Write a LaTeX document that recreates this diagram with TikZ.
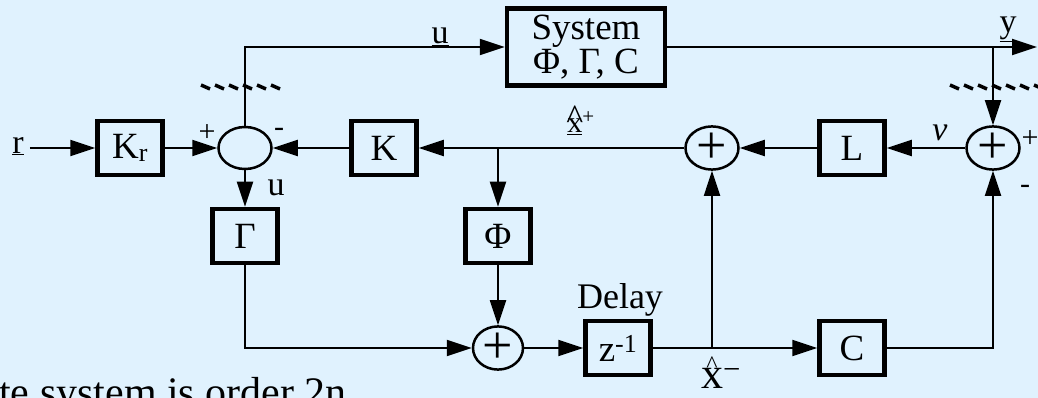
\documentclass[tikz,border=0pt]{standalone}
\usepackage{fontspec}
\setmainfont{Liberation Serif}
\usetikzlibrary{shapes.geometric,arrows.meta}
\definecolor{slidebg}{RGB}{224,242,254}
% x with a caret: #1 raise, #2 caret size
\newcommand{\hatx}[2]{\ooalign{x\cr\hidewidth\raisebox{#1}{\fontsize{#2}{#2}\selectfont\textasciicircum}\hidewidth\cr}}

\begin{document}
\begin{tikzpicture}[
    x=1pt, y=-1pt,
    block/.style={draw, line width=4.5pt, minimum width=65pt, minimum height=54pt, inner sep=0pt, font=\fontsize{37}{38}\selectfont},
    junction/.style={ellipse, draw, line width=2.5pt, minimum width=53pt, minimum height=42pt, inner sep=0pt, font=\fontsize{54}{54}\selectfont},
    lbl/.style={inner sep=0pt, font=\fontsize{34}{36}\selectfont},
    sgn/.style={inner sep=0pt, font=\fontsize{30}{30}\selectfont},
    sig/.style={line width=2pt, -{Triangle[length=25pt,width=16pt]}},
    cutmark/.style={line width=3.5pt}
]
\useasboundingbox (0,0) rectangle (1038,398);
\fill[slidebg] (0,0) rectangle (1038,398);
\clip (0,0) rectangle (1038,398);

% Controller
\node[lbl, inner sep=6pt] (r) at (18,146) {\underline{r}};
\node[block] (Kr) at (130,148) {K\textsubscript{r}};
\node[junction] (s1) at (245,148) {};
\node[block] (K) at (384,148) {K};
\node[block] (Gam) at (245,236) {Γ};

% Plant
\node[block, minimum width=158pt, minimum height=77pt, align=center, font=\fontsize{37}{32}\selectfont] (sys) at (586,47) {System\\Φ, Γ, C};
\coordinate (br3) at (993,47);
\coordinate (yout) at (1037,47);

% Estimator
\node[junction] (s2) at (712,148) {+};
\node[block] (L) at (852,148) {L};
\node[junction] (s3) at (993,148) {+};
\node[block] (Phi) at (498,236) {Φ};
\node[junction, minimum width=50pt] (s4) at (498,348) {+};
\node[block] (dly) at (618,348) {z\textsuperscript{-1}};
\node[block] (C) at (852,348) {C};
\coordinate (br1) at (498,148);
\coordinate (br2) at (712,348);

% Labels
\node[lbl] (ulbl) at (440,37) {\underline{u}};
\node[lbl] (ylbl) at (1008,29) {\underline{y}};
\node[lbl] (ulbl2) at (276,188) {u};
\node[lbl, font=\fontsize{30}{32}\selectfont] (xplus) at (581,123) {\underline{\hatx{.1em}{36}}\textsuperscript{+}};
\node[lbl] (nulbl) at (940,133) {\textit{ν}};
\node[lbl, font=\fontsize{44}{46}\selectfont] (xminus) at (721,378) {\hatx{.36em}{24}\textsuperscript{−}};
\node[lbl, font=\fontsize{36}{38}\selectfont] (dlylbl) at (620,300) {Delay};
\node[sgn] (p1) at (207,133) {+};
\node[sgn] (m1) at (279,132) {-};
\node[sgn] (p3) at (1030,139) {+};
\node[sgn] (m3) at (1025,189) {-};
\node[anchor=base west, inner sep=0pt, font=\fontsize{42}{44}\selectfont] (note) at (-1,406) {te system is order 2n};

% Loop breaks
\foreach \x in {201,215,...,280}
    \draw[cutmark] (\x,85) -- (\x+9,89);
\foreach \x in {950,964,...,1036}
    \draw[cutmark] (\x,85) -- (\x+9,89);

% Connections
\draw[sig] (r.east |- Kr) -- (Kr);
\draw[sig] (Kr) -- (s1);
\draw[sig] (K) -- (s1);
\draw[sig] (s1) |- (sys);
\draw[sig] (sys) -- (yout);
\draw[sig] (br3) -- (s3);
\draw[sig] (s3) -- (L);
\draw[sig] (L) -- (s2);
\draw[sig] (s2) -- (K);
\draw[sig] (br1) -- (Phi);
\draw[sig] (s1) -- (Gam);
\draw[sig] (Gam) |- (s4);
\draw[sig] (Phi) -- (s4);
\draw[sig] (s4) -- (dly);
\draw[sig] (dly) -- (C);
\draw[sig] (br2) -- (s2);
\draw[sig] (C) -| (s3);

\end{tikzpicture}
\end{document}
